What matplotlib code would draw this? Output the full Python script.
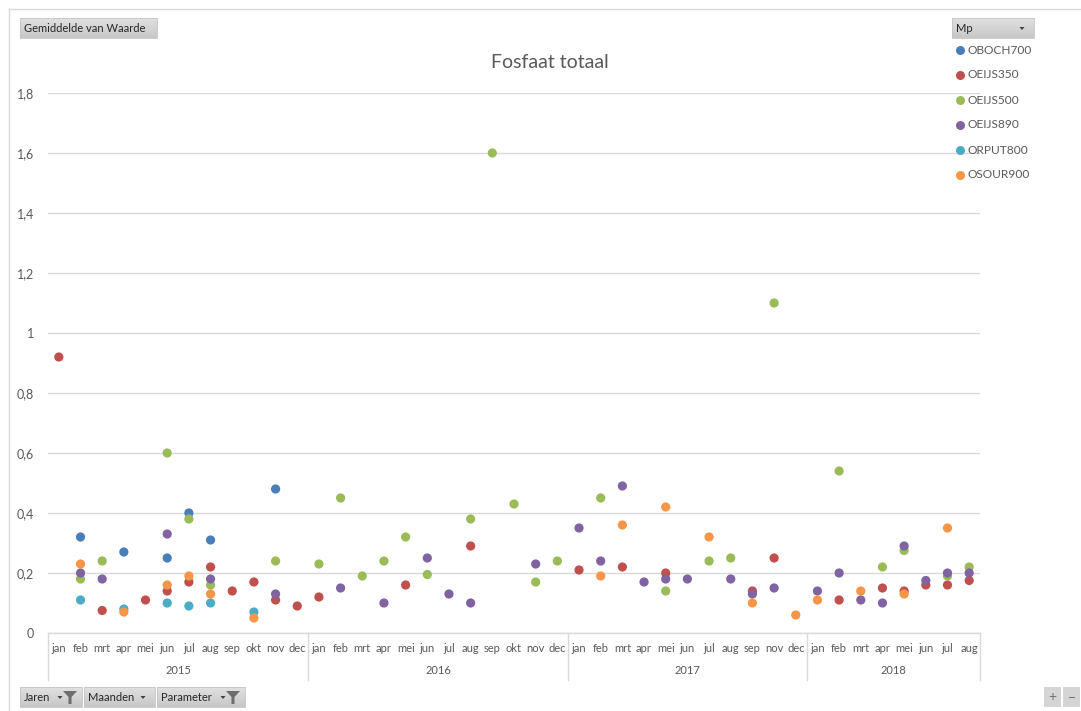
import numpy as np
import matplotlib
matplotlib.use("Agg")
import matplotlib.pyplot as plt
from matplotlib.patches import Rectangle, Polygon
import matplotlib.transforms as mtransforms

plt.rcParams['font.family'] = ['Lato', 'DejaVu Sans']

nan = np.nan

# Month categories per year (2017 has no okt measurement)
years = ["2015", "2016", "2017", "2018"]
months_per_year = [
    ["jan", "feb", "mrt", "apr", "mei", "jun", "jul", "aug", "sep", "okt", "nov", "dec"],
    ["jan", "feb", "mrt", "apr", "mei", "jun", "jul", "aug", "sep", "okt", "nov", "dec"],
    ["jan", "feb", "mrt", "apr", "mei", "jun", "jul", "aug", "sep", "nov", "dec"],
    ["jan", "feb", "mrt", "apr", "mei", "jun", "jul", "aug"],
]

series_labels = ["OBOCH700", "OEIJS350", "OEIJS500", "OEIJS890", "ORPUT800", "OSOUR900"]
colors = ["#4a7ebb", "#c0504d", "#9bbb59", "#8064a2", "#4bacc6", "#f79646"]

# Average values (Gemiddelde van Waarde), one entry per month category
OBOCH700 = [nan, 0.32, nan, 0.27, nan, 0.25, 0.40, 0.31, nan, nan, 0.48, nan,
            nan, nan, nan, nan, nan, nan, nan, nan, nan, nan, nan, nan,
            nan, nan, nan, nan, nan, nan, nan, nan, nan, nan, nan,
            nan, nan, nan, nan, nan, nan, nan, nan]
OEIJS350 = [0.92, nan, 0.075, nan, 0.11, 0.14, 0.17, 0.22, 0.14, 0.17, 0.11, 0.09,
            0.12, nan, nan, nan, 0.16, nan, nan, 0.29, nan, nan, nan, nan,
            0.21, nan, 0.22, nan, 0.20, nan, nan, nan, 0.14, 0.25, nan,
            nan, 0.11, nan, 0.15, 0.14, 0.16, 0.16, 0.175]
OEIJS500 = [nan, 0.18, 0.24, nan, nan, 0.60, 0.38, 0.16, nan, nan, 0.24, nan,
            0.23, 0.45, 0.19, 0.24, 0.32, 0.195, nan, 0.38, 1.60, 0.43, 0.17, 0.24,
            nan, 0.45, nan, nan, 0.14, nan, 0.24, 0.25, nan, 1.10, nan,
            nan, 0.54, nan, 0.22, 0.275, nan, 0.19, 0.22]
OEIJS890 = [nan, 0.20, 0.18, nan, nan, 0.33, nan, 0.18, nan, nan, 0.13, nan,
            nan, 0.15, nan, 0.10, nan, 0.25, 0.13, 0.10, nan, nan, 0.23, nan,
            0.35, 0.24, 0.49, 0.17, 0.18, 0.18, nan, 0.18, 0.13, 0.15, nan,
            0.14, 0.20, 0.11, 0.10, 0.29, 0.175, 0.20, 0.20]
ORPUT800 = [nan, 0.11, nan, 0.08, nan, 0.10, 0.09, 0.10, nan, 0.07, nan, nan,
            nan, nan, nan, nan, nan, nan, nan, nan, nan, nan, nan, nan,
            nan, nan, nan, nan, nan, nan, nan, nan, nan, nan, nan,
            nan, nan, nan, nan, nan, nan, nan, nan]
OSOUR900 = [nan, 0.23, nan, 0.07, nan, 0.16, 0.19, 0.13, nan, 0.05, nan, nan,
            nan, nan, nan, nan, nan, nan, nan, nan, nan, nan, nan, nan,
            nan, 0.19, 0.36, nan, 0.42, nan, 0.32, nan, 0.10, nan, 0.06,
            0.11, nan, 0.14, nan, 0.13, nan, 0.35, nan]

series_values = [OBOCH700, OEIJS350, OEIJS500, OEIJS890, ORPUT800, OSOUR900]
y_ticks = [0, 0.2, 0.4, 0.6, 0.8, 1.0, 1.2, 1.4, 1.6, 1.8]
y_tick_labels = ["0", "0,2", "0,4", "0,6", "0,8", "1", "1,2", "1,4", "1,6", "1,8"]

W, H = 1081, 711
TXT = "#595959"
GRID = "#d9d9d9"

fig = plt.figure(figsize=(W / 100, H / 100), dpi=100)

# plot area in pixel terms: x 48..980, y 93..633
ax = fig.add_axes([48 / W, 1 - 633 / H, (980 - 48) / W, (633 - 93) / H])
n_cat = sum(len(m) for m in months_per_year)
x = np.arange(n_cat)

for vals, col in zip(series_values, colors):
    ax.scatter(x, vals, s=44, color=col, edgecolors="none", zorder=3, clip_on=False)

ax.set_xlim(-0.5, n_cat - 0.5)
ax.set_ylim(0, 1.8)
ax.set_yticks(y_ticks)
ax.set_yticklabels(y_tick_labels, color=TXT, fontsize=9)
ax.yaxis.grid(True, color=GRID, linewidth=1)
ax.set_axisbelow(True)
ax.tick_params(axis="y", length=0, pad=10)
ax.set_xticks([])
for side in ["top", "right", "left"]:
    ax.spines[side].set_visible(False)
ax.spines["bottom"].set_color(GRID)
ax.spines["bottom"].set_linewidth(1)

# multi-level category axis: months and years
trans = mtransforms.blended_transform_factory(ax.transData, ax.transAxes)
ax_h = 633 - 93
idx = 0
bounds = [-0.5]
for yr, months in zip(years, months_per_year):
    for m in months:
        ax.text(idx, -15 / ax_h, m, transform=trans, ha="center", va="center",
                fontsize=8, color=TXT)
        idx += 1
    bounds.append(idx - 0.5)
    mid = idx - len(months) / 2 - 0.5
    ax.text(mid, -37 / ax_h, yr, transform=trans, ha="center", va="center",
            fontsize=8, color=TXT)
for b in bounds:
    ax.plot([b, b], [0, -47 / ax_h], transform=trans, color=GRID, lw=1, clip_on=False)

fig.text(550 / W, 1 - 63 / H, "Fosfaat totaal", ha="center", va="center",
         fontsize=14, color=TXT)

# overlay in pixel coordinates for frame, buttons and legend
ov = fig.add_axes([0, 0, 1, 1], zorder=5)
ov.set_xlim(0, W)
ov.set_ylim(H, 0)
ov.axis("off")
ov.patch.set_alpha(0)

ov.plot([9, 1081], [9, 9], color=GRID, lw=1)
ov.plot([9, 9], [9, 711], color=GRID, lw=1)


def button(x0, y0, w, h, label, arrow=False, funnel=False):
    # light grey vertical gradient like the pivot field buttons
    grad = np.linspace(0.88, 0.78, 32).reshape(-1, 1)
    ov.imshow(grad, cmap="gray", vmin=0, vmax=1, aspect="auto",
              extent=(x0, x0 + w, y0 + h, y0), zorder=1)
    ov.add_patch(Rectangle((x0, y0), w, h, facecolor="none", edgecolor="#c4c4c4", lw=0.6, zorder=2))
    ov.text(x0 + 4, y0 + h / 2 + 0.5, label, ha="left", va="center", fontsize=8,
            color="#262626", zorder=3)
    if arrow:
        ax_x = x0 + w - 12 if not funnel else x0 + w - 22
        ov.add_patch(Polygon([[ax_x - 2.5, y0 + 9], [ax_x + 2.5, y0 + 9], [ax_x, y0 + 12]],
                             closed=True, facecolor="#404040", edgecolor="none", zorder=3))
    if funnel:
        fx = x0 + w - 12
        ov.add_patch(Polygon([[fx - 7, y0 + 4], [fx + 7, y0 + 4], [fx + 1.5, y0 + 10],
                              [fx + 1.5, y0 + 17], [fx - 1.5, y0 + 17], [fx - 1.5, y0 + 10]],
                             closed=True, facecolor="#6d6d6d", edgecolor="none", zorder=3))


button(20, 18, 137, 20, "Gemiddelde van Waarde")
button(952, 18, 82, 20, "Mp", arrow=True)
button(20, 687, 62, 20, "Jaren", arrow=True, funnel=True)
button(84, 687, 71, 20, "Maanden", arrow=True)
button(157, 687, 88, 20, "Parameter", arrow=True, funnel=True)

ov.add_patch(Rectangle((1044, 687), 17, 20, facecolor="#d5d5d5", edgecolor="none"))
ov.add_patch(Rectangle((1063, 687), 17, 20, facecolor="#d5d5d5", edgecolor="none"))
ov.text(1052.5, 697, "+", ha="center", va="center", fontsize=10, color="#707070")
ov.text(1071.5, 697, "\u2212", ha="center", va="center", fontsize=10, color="#707070")

# legend entries
for i, (lab, col) in enumerate(zip(series_labels, colors)):
    yy = 50 + 25 * i
    ov.plot(960, yy, marker="o", ms=6.5, color=col, mec="none")
    ov.text(968, yy, lab, ha="left", va="center", fontsize=8.6, color=TXT)

ov.set_xlim(0, W)
ov.set_ylim(H, 0)

fig.savefig("out.png", dpi=100)
